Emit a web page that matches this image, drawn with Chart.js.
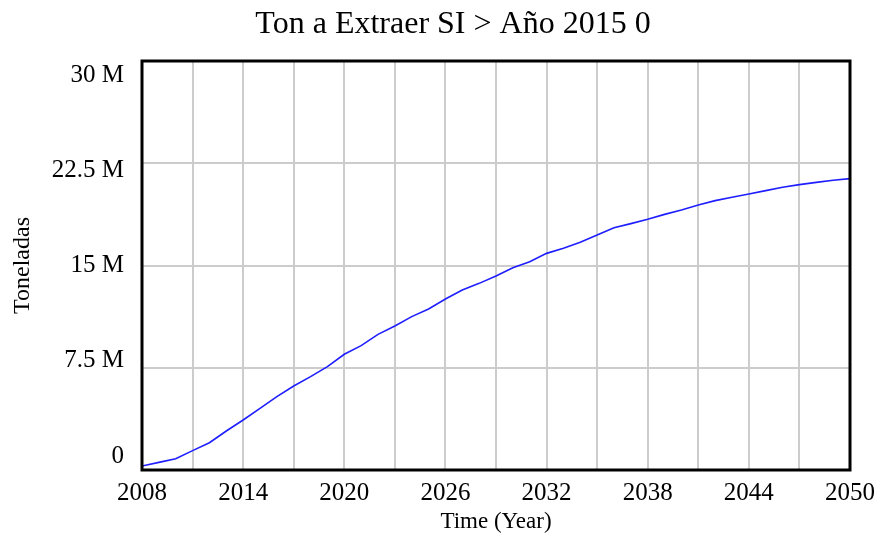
<!DOCTYPE html>
<html>
<head>
<meta charset="utf-8">
<title>Ton a Extraer SI</title>
<script src="https://cdn.jsdelivr.net/npm/chart.js@4/dist/chart.umd.min.js"></script>
<style>
  html, body { margin: 0; padding: 0; background: #ffffff; }
  #wrap { width: 877px; height: 533px; }
</style>
</head>
<body>
<div id="wrap"><canvas id="c" width="877" height="533"></canvas></div>
<script>
// Simulated tonnage to extract, one value per year (tonnes)
const years = [2008, 2009, 2010, 2011, 2012, 2013, 2014, 2015, 2016, 2017,
               2018, 2019, 2020, 2021, 2022, 2023, 2024, 2025, 2026, 2027,
               2028, 2029, 2030, 2031, 2032, 2033, 2034, 2035, 2036, 2037,
               2038, 2039, 2040, 2041, 2042, 2043, 2044, 2045, 2046, 2047,
               2048, 2049, 2050];
const tonsMillions = [0.29, 0.56, 0.83, 1.42, 2.00, 2.86, 3.67, 4.52, 5.38, 6.16,
                      6.85, 7.58, 8.49, 9.12, 9.95, 10.56, 11.25, 11.81, 12.54, 13.20,
                      13.69, 14.23, 14.84, 15.28, 15.89, 16.26, 16.70, 17.24, 17.77, 18.07,
                      18.39, 18.75, 19.07, 19.44, 19.76, 20.00, 20.25, 20.49, 20.74, 20.93,
                      21.10, 21.25, 21.37];
const yTickValues = [0, 7500000, 15000000, 22500000, 30000000];
const xTickValues = [2008, 2011, 2014, 2017, 2020, 2023, 2026, 2029, 2032, 2035,
                     2038, 2041, 2044, 2047, 2050];
const xLabelYears = [2008, 2014, 2020, 2026, 2032, 2038, 2044, 2050];

const chartTitle = 'Ton a Extraer SI > Año 2015 0';
const yTitle = 'Toneladas';
const xTitle = 'Time (Year)';

const SERIF = '"Liberation Serif", "Times New Roman", serif';
const GRID = 'rgb(204,204,204)';

const points = years.map((yr, i) => ({ x: yr, y: tonsMillions[i] * 1e6 }));

function fmtMillions(v) {
  if (v === 0) return '0';
  return (v / 1e6) + ' M';
}

// Heading text centred above the plot
const headingPlugin = {
  id: 'heading',
  afterDraw(chart) {
    const ctx = chart.ctx;
    ctx.save();
    ctx.fillStyle = '#000';
    ctx.font = '32px ' + SERIF;
    ctx.textAlign = 'center';
    ctx.textBaseline = 'middle';
    ctx.fillText(chartTitle, 453, 25);
    ctx.restore();
  }
};

// Black frame round the plotting area
const framePlugin = {
  id: 'frame',
  afterDatasetsDraw(chart) {
    const { left, top, right, bottom } = chart.chartArea;
    const ctx = chart.ctx;
    ctx.save();
    ctx.strokeStyle = '#000';
    ctx.lineWidth = 3;
    ctx.strokeRect(left, top, right - left, bottom - top);
    ctx.restore();
  }
};

new Chart(document.getElementById('c'), {
  type: 'line',
  data: {
    datasets: [{
      label: chartTitle,
      data: points,
      borderColor: 'rgb(30,30,255)',
      borderWidth: 1.6,
      pointRadius: 0,
      tension: 0,
      fill: false
    }]
  },
  options: {
    responsive: false,
    animation: false,
    events: [],
    layout: { padding: { top: 61, left: 0, right: 0, bottom: 0 } },
    plugins: {
      legend: { display: false },
      title: { display: false },
      tooltip: { enabled: false }
    },
    scales: {
      x: {
        type: 'linear',
        min: 2008,
        max: 2050,
        afterBuildTicks(scale) { scale.ticks = xTickValues.map(v => ({ value: v })); },
        afterFit(scale) {
          scale.height = 63;
          scale.paddingLeft = 0;
          scale.paddingRight = 27;
        },
        grid: { color: GRID, lineWidth: 2, drawTicks: false },
        border: { display: false },
        ticks: {
          autoSkip: false,
          maxRotation: 0,
          padding: 8,
          color: '#000',
          font: { family: SERIF, size: 25 },
          callback: v => (xLabelYears.includes(v) ? String(v) : '')
        },
        title: {
          display: true,
          text: xTitle,
          color: '#000',
          font: { family: SERIF, size: 23, lineHeight: 1 },
          padding: { top: 0, bottom: 0 }
        }
      },
      // value axis carrying the gridlines
      y: {
        type: 'linear',
        position: 'left',
        min: 0,
        max: 30000000,
        afterBuildTicks(scale) { scale.ticks = yTickValues.map(v => ({ value: v })); },
        afterFit(scale) {
          scale.width = 0;
          scale.paddingTop = 0;
          scale.paddingBottom = 0;
        },
        grid: { color: GRID, lineWidth: 2, drawTicks: false },
        border: { display: false },
        ticks: { display: false }
      },
      // label axis: tick text spread over a slightly wider range
      yLabels: {
        type: 'linear',
        position: 'left',
        min: -1100000,
        max: 31100000,
        afterBuildTicks(scale) { scale.ticks = yTickValues.map(v => ({ value: v })); },
        afterFit(scale) {
          scale.width = 142;
          scale.paddingTop = 0;
          scale.paddingBottom = 0;
        },
        grid: { display: false, drawTicks: false },
        border: { display: false },
        ticks: {
          padding: 18,
          color: '#000',
          font: { family: SERIF, size: 25 },
          callback: v => fmtMillions(v)
        },
        title: {
          display: true,
          text: yTitle,
          color: '#000',
          font: { family: SERIF, size: 24, lineHeight: 1.2 },
          padding: { top: 8, bottom: 0 }
        }
      }
    }
  },
  plugins: [headingPlugin, framePlugin]
});
</script>
</body>
</html>
